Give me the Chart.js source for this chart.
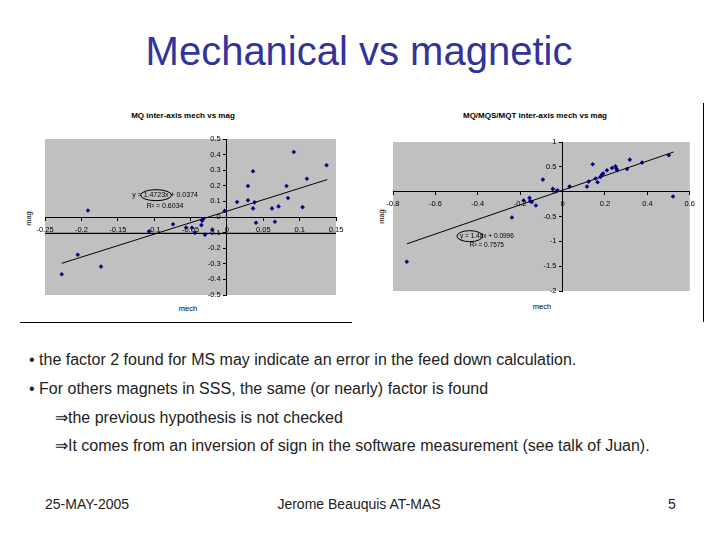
<!DOCTYPE html>
<html>
<head>
<meta charset="utf-8">
<script src="https://cdn.jsdelivr.net/npm/chart.js@4.4.1/dist/chart.umd.min.js"></script>
<style>
  body { margin: 0; background: #fff; font-family: Arial, "Liberation Sans", sans-serif; }
  #slide { position: relative; width: 720px; height: 540px; overflow: hidden; background: #fff; }
  .abs { position: absolute; white-space: nowrap; }
  .small { font-size: 7.5px; color: #000; }
  .bullet { font-size: 16px; color: #222; line-height: 18px; }
  .foot { font-size: 14px; color: #222; line-height: 16px; }
  canvas { position: absolute; }
</style>
</head>
<body>
<div id="slide">
  <div class="abs" style="left:0;width:718px;top:28px;text-align:center;font-size:40px;line-height:46px;color:#333399;">Mechanical vs magnetic</div>

  <div class="abs small" style="left:83px;width:200px;top:111px;text-align:center;font-weight:bold;font-size:8px;">MQ inter-axis mech vs mag</div>
  <div class="abs small" style="left:435px;width:200px;top:111px;text-align:center;font-weight:bold;font-size:8px;">MQ/MQS/MQT inter-axis mech vs mag</div>

  <div class="abs small" style="left:168px;width:40px;top:304px;text-align:center;">mech</div>
  <div class="abs small" style="left:522px;width:40px;top:302px;text-align:center;">mech</div>
  <div class="abs small" style="left:8px;width:40px;top:214px;text-align:center;transform:rotate(-90deg);">mag</div>
  <div class="abs small" style="left:361px;width:40px;top:212px;text-align:center;transform:rotate(-90deg);">mag</div>

  <canvas id="mq" width="340" height="225" style="left:20px;top:100px;"></canvas>
  <canvas id="all" width="335" height="220" style="left:365px;top:100px;"></canvas>

  <div class="abs" style="left:20px;width:332px;top:322px;border-top:1px solid #000;"></div>
  <div class="abs" style="left:703px;top:103px;height:219px;border-left:1px solid #000;"></div>

  <div class="abs bullet" style="left:29px;top:351px;">• the factor 2 found for MS may indicate an error in the feed down calculation.</div>
  <div class="abs bullet" style="left:29px;top:380px;">• For others magnets in SSS, the same (or nearly) factor is found</div>
  <div class="abs bullet" style="left:55px;top:409px;">⇒the previous hypothesis is not checked</div>
  <div class="abs bullet" style="left:55px;top:437px;">⇒It comes from an inversion of sign in the software measurement (see talk of Juan).</div>

  <div class="abs foot" style="left:45px;top:496px;">25-MAY-2005</div>
  <div class="abs foot" style="left:0;width:718px;top:496px;text-align:center;">Jerome Beauquis AT-MAS</div>
  <div class="abs foot" style="left:668px;top:496px;">5</div>
</div>

<script>
// MQ only
const mqMech = [-0.227, -0.205, -0.191, -0.173, -0.107, -0.074, -0.056, -0.048, -0.044, -0.035,
  -0.034, -0.033, -0.030, -0.020, -0.003, 0.014, 0.029, 0.029, 0.036, 0.036,
  0.038, 0.040, 0.062, 0.066, 0.071, 0.082, 0.084, 0.092, 0.104, 0.110, 0.137];
const mqMag = [-0.367, -0.242, 0.042, -0.318, -0.092, -0.046, -0.067, -0.069, -0.102, -0.052,
  -0.024, -0.015, -0.113, -0.081, 0.039, 0.096, 0.199, 0.107, 0.293, 0.055,
  0.094, -0.037, 0.055, -0.030, 0.068, 0.199, 0.122, 0.417, 0.063, 0.245, 0.332];
const mqTrendMech = [-0.227, 0.138];
const mqTrendMag = [-0.297, 0.240];
const mqRefLineMech = [-0.25, 0.15];
const mqRefLineMag = [-0.105, -0.105];
const mqXTicks = [-0.25, -0.2, -0.15, -0.1, -0.05, 0, 0.05, 0.1, 0.15];
const mqYTicks = [0.5, 0.4, 0.3, 0.2, 0.1, 0, -0.1, -0.2, -0.3, -0.4, -0.5];

// MQ / MQS / MQT
const allMech = [-0.735, -0.239, -0.184, -0.156, -0.153, -0.145, -0.126, -0.093, -0.046, -0.024,
  0.033, 0.115, 0.123, 0.142, 0.156, 0.165, 0.178, 0.186, 0.191, 0.209,
  0.233, 0.249, 0.254, 0.257, 0.304, 0.317, 0.375, 0.501, 0.521];
const allMag = [-1.411, -0.520, -0.179, -0.125, -0.192, -0.206, -0.279, 0.243, 0.056, 0.029,
  0.102, 0.102, 0.203, 0.551, 0.264, 0.190, 0.297, 0.344, 0.364, 0.431,
  0.478, 0.511, 0.464, 0.431, 0.457, 0.645, 0.585, 0.732, -0.098];
const allTrendMech = [-0.735, 0.524];
const allTrendMag = [-1.051, 0.799];
const allXTicks = [-0.8, -0.6, -0.4, -0.2, 0, 0.2, 0.4, 0.6];
const allYTicks = [1, 0.5, 0, -0.5, -1, -1.5, -2];

const toPoints = (xs, ys) => xs.map((x, i) => ({x: x, y: ys[i]}));

Chart.defaults.font.family = 'Arial, "Liberation Sans", sans-serif';
Chart.defaults.color = '#000';

const plotBackground = {
  id: 'plotBackground',
  beforeDraw(chart, args, opts) {
    const {ctx, chartArea: a} = chart;
    ctx.save();
    ctx.fillStyle = opts.color || '#c0c0c0';
    ctx.fillRect(a.left, a.top, a.width, a.height);
    ctx.restore();
  }
};

const trendLabel = {
  id: 'trendLabel',
  afterDatasetsDraw(chart, args, opts) {
    if (!opts.parts) return;
    const {ctx, scales} = chart;
    const cx = scales.x.getPixelForValue(opts.x);
    const cy = scales.y.getPixelForValue(opts.y);
    const cy2 = scales.y.getPixelForValue(opts.y2);
    ctx.save();
    ctx.font = opts.size + 'px Arial, "Liberation Sans", sans-serif';
    ctx.fillStyle = '#000';
    ctx.strokeStyle = '#000';
    ctx.lineWidth = 1;
    ctx.textBaseline = 'middle';
    ctx.textAlign = 'left';
    const text = opts.parts.join('');
    const w = ctx.measureText(text).width;
    const x0 = cx - w / 2;
    ctx.fillText(text, x0, cy);
    const pre = ctx.measureText(opts.parts[0]).width;
    const mid = ctx.measureText(opts.parts[1]).width;
    ctx.beginPath();
    ctx.ellipse(x0 + pre + mid / 2, cy, mid / 2 + 3, 5.5, 0, 0, 2 * Math.PI);
    ctx.stroke();
    ctx.textAlign = 'center';
    ctx.fillText(opts.r2, cx, cy2);
    ctx.restore();
  }
};

// y labels of an axis placed at x = 0 get no padding from Chart.js, so pad them with spaces
function axis(min, max, ticks, cross, padding, gap) {
  return {
    type: 'linear',
    min: min,
    max: max,
    position: cross,
    afterBuildTicks: s => { s.ticks = ticks.map(v => ({value: v})); },
    ticks: {
      autoSkip: false,
      maxRotation: 0,
      padding: padding,
      font: {size: 7.5},
      color: '#000',
      callback: v => String(v) + gap
    },
    grid: {drawOnChartArea: false, drawTicks: true, tickLength: 3, color: '#000'},
    border: {display: true, color: '#000', width: 1}
  };
}

function createMechMagChart(canvasId, points, trend, extraLines, xr, yr, label, pad) {
  const datasets = [{
    type: 'scatter',
    data: points,
    pointStyle: 'rectRot',
    pointRadius: 2.3,
    backgroundColor: '#000080',
    borderWidth: 0
  }, {
    type: 'line',
    data: trend,
    borderColor: '#000',
    borderWidth: 1,
    pointRadius: 0
  }];
  extraLines.forEach(line => {
    datasets.push({type: 'line', data: line, borderColor: '#000', borderWidth: 1.2, pointRadius: 0});
  });

  const ctx = document.getElementById(canvasId).getContext('2d');
  new Chart(ctx, {
    data: {datasets: datasets},
    options: {
      responsive: false,
      animation: false,
      layout: {padding: pad},
      scales: {
        x: axis(xr[0], xr[1], xr[2], {y: 0}, 5, ''),
        y: axis(yr[0], yr[1], yr[2], {x: 0}, 4, '   ')
      },
      plugins: {
        legend: {display: false},
        tooltip: {enabled: false},
        plotBackground: {color: '#c0c0c0'},
        trendLabel: label
      }
    },
    plugins: [plotBackground, trendLabel]
  });
}

createMechMagChart('mq',
  toPoints(mqMech, mqMag),
  toPoints(mqTrendMech, mqTrendMag),
  [toPoints(mqRefLineMech, mqRefLineMag)],
  [-0.25, 0.15, mqXTicks], [-0.5, 0.5, mqYTicks],
  {parts: ['y = ', '1.4723x', ' + 0.0374'], r2: 'R² = 0.6034', x: -0.085, y: 0.140, y2: 0.068, size: 7},
  {left: 25, top: 39, right: 24, bottom: 30});

createMechMagChart('all',
  toPoints(allMech, allMag),
  toPoints(allTrendMech, allTrendMag),
  [],
  [-0.8, 0.6, allXTicks], [-2, 1, allYTicks],
  {parts: ['', 'y = 1.4', '8x + 0.0996'], r2: 'R² = 0.7575', x: -0.357, y: -0.896, y2: -1.076, size: 6.5},
  {left: 28, top: 42, right: 10, bottom: 29});
</script>
</body>
</html>
